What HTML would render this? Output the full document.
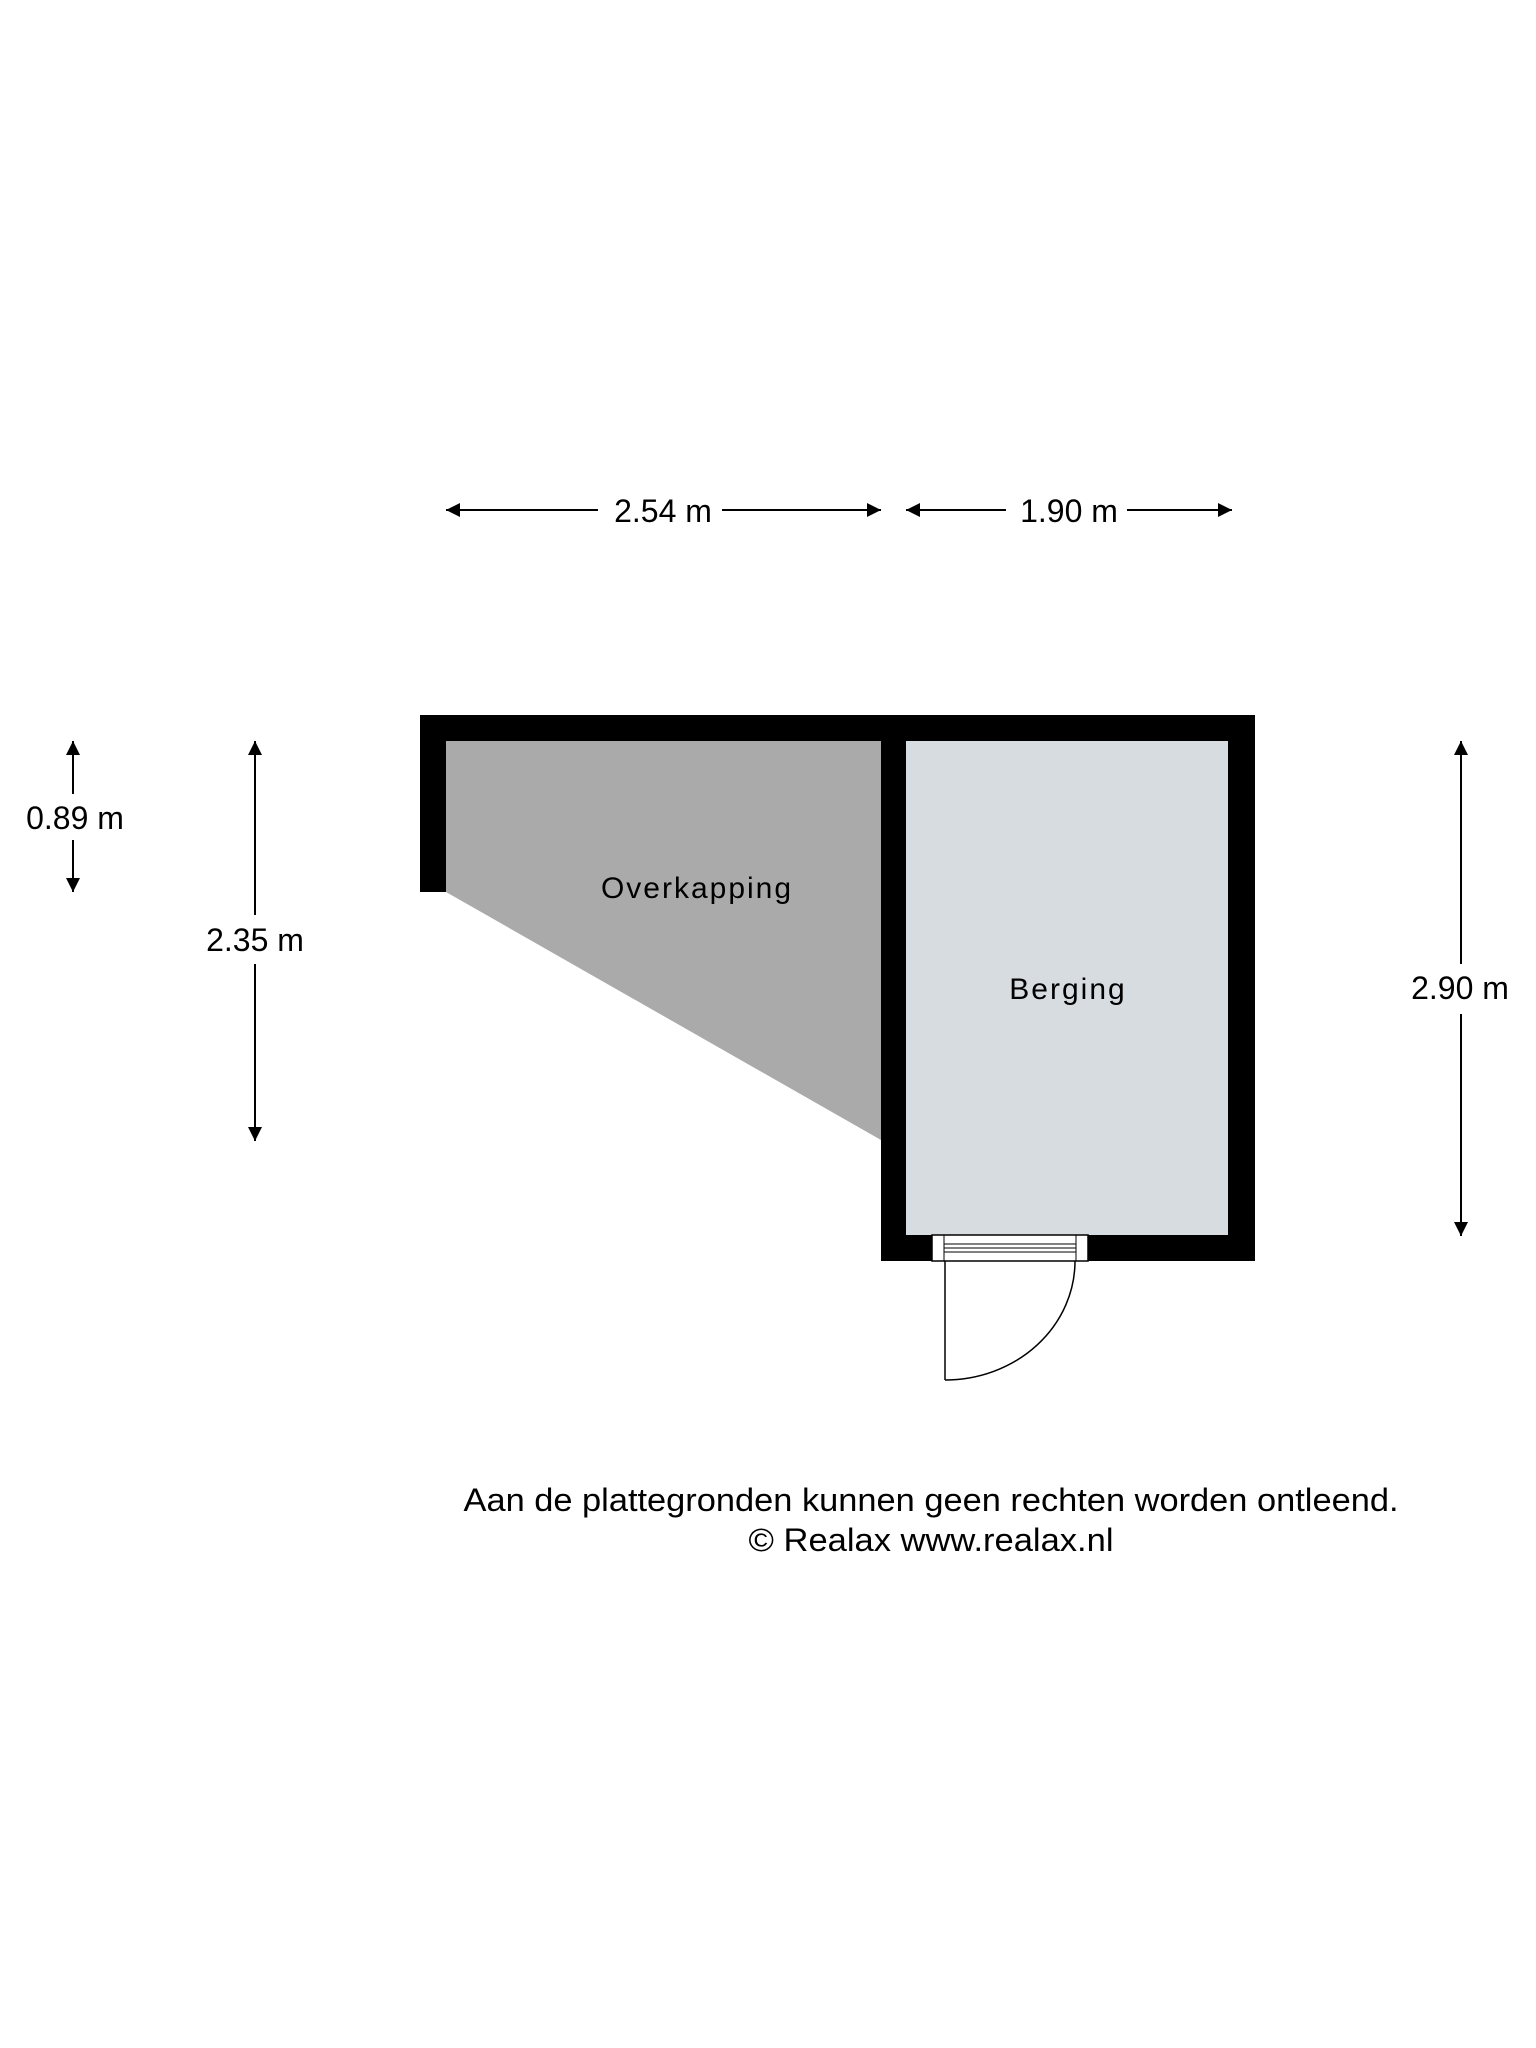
<!DOCTYPE html>
<html><head><meta charset="utf-8"><style>
html,body{margin:0;padding:0;background:#fff;}
svg{display:block;font-family:"Liberation Sans",sans-serif;}
</style></head><body>
<svg width="1536" height="2048" viewBox="0 0 1536 2048" xmlns="http://www.w3.org/2000/svg">
<defs>
<marker id="a" viewBox="0 0 10 10" refX="10" refY="5" markerWidth="16" markerHeight="14" markerUnits="userSpaceOnUse" orient="auto-start-reverse"><path d="M0,0 L10,5 L0,10 Z" fill="#000"/></marker>
</defs>
<polygon points="446,741 881,741 881,1140 446,892" fill="#aaaaaa"/>
<rect x="906" y="741" width="322" height="494" fill="#d7dce0"/>
<path d="M420,715 H1255 V1261 H1088 V1235 H1228 V741 H906 V1235 H932 V1261 H881 V741 H446 V892 H420 Z" fill="#000"/>
<rect x="932" y="1235" width="156" height="26" fill="#fff" stroke="#000" stroke-width="1.5"/>
<line x1="944" y1="1244" x2="1076" y2="1244" stroke="#000" stroke-width="1"/>
<line x1="944" y1="1248" x2="1076" y2="1248" stroke="#000" stroke-width="1"/>
<line x1="944" y1="1252" x2="1076" y2="1252" stroke="#000" stroke-width="1"/>
<line x1="944" y1="1235" x2="944" y2="1261" stroke="#000" stroke-width="1"/>
<line x1="1076" y1="1235" x2="1076" y2="1261" stroke="#000" stroke-width="1"/>
<line x1="945" y1="1261" x2="945" y2="1380" stroke="#000" stroke-width="1.5"/>
<path d="M945,1380 A130,119 0 0 0 1075,1261" fill="none" stroke="#000" stroke-width="1.5"/>
<text x="697" y="898" font-size="30" text-anchor="middle" letter-spacing="2">Overkapping</text>
<text x="1068" y="999" font-size="30" text-anchor="middle" letter-spacing="2">Berging</text>
<g stroke="#000" stroke-width="2" fill="none">
<line x1="446" y1="510" x2="598" y2="510" marker-start="url(#a)"/>
<line x1="722" y1="510" x2="881" y2="510" marker-end="url(#a)"/>
<line x1="906" y1="510" x2="1006" y2="510" marker-start="url(#a)"/>
<line x1="1127" y1="510" x2="1232" y2="510" marker-end="url(#a)"/>
<line x1="73" y1="741" x2="73" y2="794" marker-start="url(#a)"/>
<line x1="73" y1="840" x2="73" y2="892" marker-end="url(#a)"/>
<line x1="255" y1="741" x2="255" y2="915" marker-start="url(#a)"/>
<line x1="255" y1="964" x2="255" y2="1141" marker-end="url(#a)"/>
<line x1="1461" y1="741" x2="1461" y2="964" marker-start="url(#a)"/>
<line x1="1461" y1="1014" x2="1461" y2="1236" marker-end="url(#a)"/>
</g>
<g font-size="32" text-anchor="middle" fill="#000">
<text x="663" y="522">2.54 m</text>
<text x="1069" y="522">1.90 m</text>
<text x="75" y="829">0.89 m</text>
<text x="255" y="951">2.35 m</text>
<text x="1460" y="999">2.90 m</text>
<text x="931" y="1511" textLength="935" lengthAdjust="spacingAndGlyphs">Aan de plattegronden kunnen geen rechten worden ontleend.</text>
<text x="931" y="1551" textLength="365" lengthAdjust="spacingAndGlyphs">© Realax www.realax.nl</text>
</g>
</svg>
</body></html>
